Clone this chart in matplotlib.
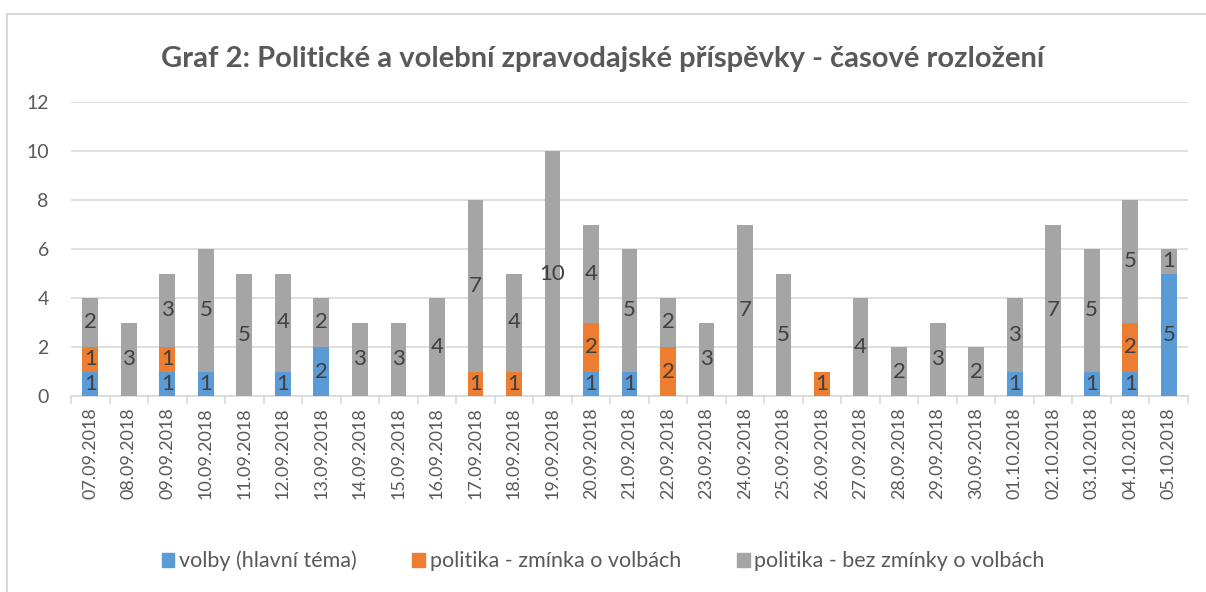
import matplotlib
matplotlib.use("Agg")
import matplotlib.pyplot as plt
import numpy as np
from matplotlib.lines import Line2D

dates = ["07.09.2018", "08.09.2018", "09.09.2018", "10.09.2018", "11.09.2018", "12.09.2018",
         "13.09.2018", "14.09.2018", "15.09.2018", "16.09.2018", "17.09.2018", "18.09.2018",
         "19.09.2018", "20.09.2018", "21.09.2018", "22.09.2018", "23.09.2018", "24.09.2018",
         "25.09.2018", "26.09.2018", "27.09.2018", "28.09.2018", "29.09.2018", "30.09.2018",
         "01.10.2018", "02.10.2018", "03.10.2018", "04.10.2018", "05.10.2018"]
volby = [1, 0, 1, 1, 0, 1, 2, 0, 0, 0, 0, 0, 0, 1, 1, 0, 0, 0, 0, 0, 0, 0, 0, 0, 1, 0, 1, 1, 5]
zminka = [1, 0, 1, 0, 0, 0, 0, 0, 0, 0, 1, 1, 0, 2, 0, 2, 0, 0, 0, 1, 0, 0, 0, 0, 0, 0, 0, 2, 0]
bez = [2, 3, 3, 5, 5, 4, 2, 3, 3, 4, 7, 4, 10, 4, 5, 2, 3, 7, 5, 0, 4, 2, 3, 2, 3, 7, 5, 5, 1]
series_names = ["volby (hlavní téma)", "politika - zmínka o volbách", "politika - bez zmínky o volbách"]
colors = ["#5B9BD5", "#ED7D31", "#A5A5A5"]

plt.rcParams['font.family'] = ['Lato', 'DejaVu Sans']
W, H = 1206, 592
fig = plt.figure(figsize=(W / 100, H / 100), dpi=100)
ax = fig.add_axes([71 / W, 1 - 396 / H, (1188 - 71) / W, (396 - 102) / H])

x = np.arange(len(dates))
bottom = np.zeros(len(dates))
txt = "#404040"
for vals, c in zip([volby, zminka, bez], colors):
    vals = np.array(vals, dtype=float)
    ax.bar(x, vals, bottom=bottom, width=0.41, color=c, zorder=3)
    for xi, v, b in zip(x, vals, bottom):
        if v > 0:
            ax.text(xi, b + v / 2, f"{int(v)}", ha="center", va="center",
                    fontsize=16, color=txt, zorder=4)
    bottom += vals

ax.set_xlim(-0.5, len(dates) - 0.5)
ax.set_ylim(0, 12)
ax.set_yticks(range(0, 13, 2))
ax.yaxis.grid(True, color="#D9D9D9", linewidth=1.2, zorder=0)
ax.tick_params(axis="y", length=0, labelsize=14, labelcolor="#595959", pad=16)
ax.set_xticks(x)
ax.set_xticklabels(dates, rotation=90, fontsize=13, color="#595959")
ax.tick_params(axis="x", length=0, pad=8)
ax.set_xticks(np.arange(-0.5, len(dates), 1), minor=True)
ax.tick_params(axis="x", which="minor", length=6, color="#D9D9D9", width=1.2)
for s in ["top", "right", "left"]:
    ax.spines[s].set_visible(False)
ax.spines["bottom"].set_color("#D9D9D9")
ax.spines["bottom"].set_linewidth(1.2)

fig.text(0.5, 1 - 59 / H, "Graf 2: Politické a volební zpravodajské příspěvky - časové rozložení",
         ha="center", va="center", fontsize=21, fontweight="bold", color="#595959")

handles = [plt.Rectangle((0, 0), 1, 1, color=c) for c in colors]
fig.legend(handles, series_names, loc="center", bbox_to_anchor=(0.5, 1 - 561 / H), ncol=3,
           frameon=False, fontsize=15.5, handlelength=0.6, handleheight=0.6, handletextpad=0.2,
           columnspacing=2.6, labelcolor="#595959")

fig.add_artist(Line2D([6.5 / W, 1], [1 - 13.5 / H, 1 - 13.5 / H], color="#D9D9D9", linewidth=1.5,
                      transform=fig.transFigure))
fig.add_artist(Line2D([6.5 / W, 6.5 / W], [0, 1 - 13.5 / H], color="#D9D9D9", linewidth=1.5,
                      transform=fig.transFigure))

fig.savefig("out.png", dpi=100)
